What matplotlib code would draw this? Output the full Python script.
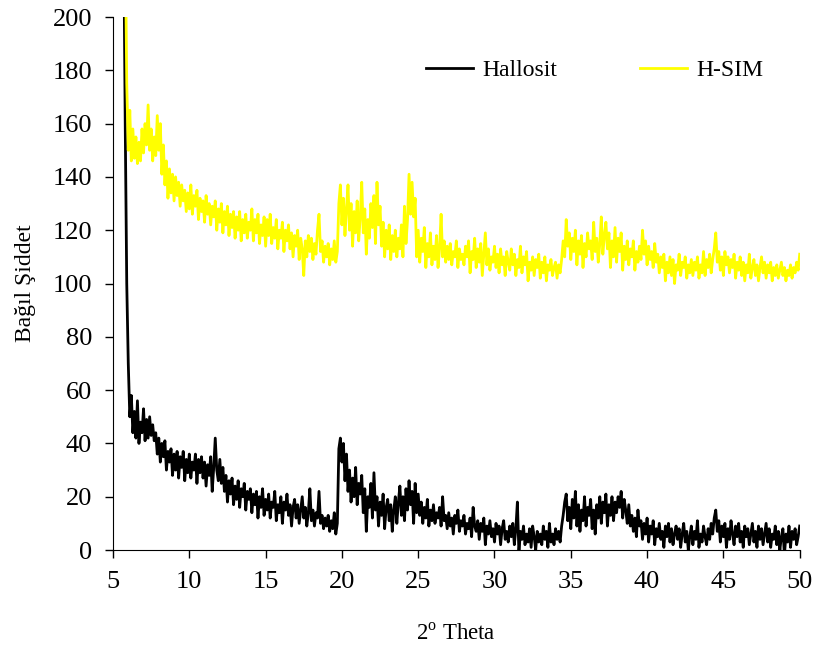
import numpy as np
import matplotlib
matplotlib.use("Agg")
import matplotlib.pyplot as plt

plt.rcParams['font.family'] = ['Liberation Serif', 'DejaVu Serif']
plt.rcParams['mathtext.fontset'] = 'custom'
plt.rcParams['mathtext.rm'] = 'Liberation Serif'

# 2-theta grid (0.1 deg step) and intensities
theta_hallosit = np.round(np.arange(5.7, 50.05, 0.1), 1)
hallosit = [
    230, 160, 100,
    70, 50, 58, 44, 52, 42, 56, 40, 48, 44,
    53, 41, 49, 42, 50, 43, 47, 41, 44, 36,
    42, 33, 40, 35, 41, 30, 37, 33, 38, 28,
    36, 30, 37, 27, 35, 31, 37, 26, 34, 29,
    36, 27, 33, 30, 36, 25, 34, 29, 35, 27,
    33, 24, 32, 28, 35, 22, 31, 42, 30, 26,
    34, 25, 31, 22, 28, 18, 26, 21, 27, 17,
    24, 19, 26, 16, 23, 20, 25, 15, 22, 19,
    23, 14, 21, 17, 22, 12, 20, 16, 23, 13,
    19, 15, 21, 12, 18, 16, 22, 11, 17, 14,
    20, 10, 18, 15, 21, 13, 17, 9, 16, 19,
    12, 17, 10, 15, 20, 12, 16, 9, 14, 23,
    11, 15, 9, 14, 12, 22, 10, 13, 8, 12,
    9, 13, 7, 11, 8, 14, 6, 10, 38, 42,
    33, 40, 26, 36, 22, 30, 18, 27, 20, 31,
    17, 25, 21, 28, 14, 23, 7, 20, 16, 25,
    12, 29, 15, 20, 9, 18, 13, 21, 8, 16,
    19, 11, 17, 7, 15, 20, 10, 18, 24, 13,
    20, 11, 23, 15, 26, 17, 22, 10, 25, 14,
    21, 13, 18, 10, 16, 12, 19, 9, 15, 11,
    17, 10, 14, 12, 16, 9, 20, 11, 13, 8,
    14, 9, 12, 6, 13, 10, 15, 7, 11, 9,
    13, 6, 10, 8, 12, 5, 16, 9, 7, 11,
    4, 10, 7, 12, 2, 9, 6, 11, 5, 8,
    3, 10, 6, 9, 2, 8, 11, 4, 7, 3,
    9, 5, 10, 2, 8, 18, -1, 7, 4, 9,
    2, 6, 3, 8, 1, 9, 5, 0, 7, 3,
    6, 2, 9, 4, 7, 1, 10, 3, 6, 2,
    8, 4, 7, 3, 9, 13, 18, 21, 11, 16,
    8, 19, 12, 22, 9, 17, 7, 15, 11, 20,
    9, 16, 13, 19, 8, 15, 6, 17, 12, 20,
    10, 18, 14, 21, 9, 17, 13, 20, 11, 18,
    14, 20, 16, 22, 12, 19, 15, 10, 17, 9,
    13, 7, 12, 5, 15, 9, 11, 4, 10, 6,
    12, 3, 9, 6, 11, 2, 8, 5, 10, 4,
    7, 1, 9, 5, 10, 3, 8, 2, 6, 9,
    4, 8, 1, 6, 10, 3, 7, 0, 5, 9,
    2, 7, 4, 11, 1, 6, 3, 9, 5, 2,
    8, 4, 10, 6, 12, 15, 7, 11, 3, 9,
    5, 10, 1, 8, 4, 11, 6, 2, 9, 5,
    10, 3, 7, 1, 9, 5, 8, 2, 6, 10,
    3, 7, 1, 9, 4, 8, 2, 6, 10, 3,
    8, 1, 6, 4, 9, 2, 7, 0, 5, 8,
    -2, 6, 3, 9, 1, 7, 4, 8, 2, 5,
    9,
]

theta_hsim = np.round(np.arange(5.8, 50.05, 0.1), 1)
hsim = [
    230, 175,
    150, 165, 146, 158, 147, 155, 145, 153, 146, 158,
    149, 160, 152, 167, 150, 158, 146, 155, 148, 163,
    150, 160, 141, 152, 137, 146, 132, 143, 134, 141,
    131, 140, 133, 138, 129, 137, 131, 135, 127, 134,
    128, 137, 126, 133, 129, 135, 124, 132, 127, 131,
    123, 133, 126, 130, 122, 129, 125, 131, 120, 128,
    123, 130, 119, 127, 122, 129, 118, 126, 121, 127,
    117, 125, 120, 127, 116, 124, 119, 126, 117, 123,
    120, 128, 116, 124, 119, 126, 115, 122, 118, 125,
    114, 124, 118, 126, 115, 121, 117, 124, 113, 120,
    117, 123, 112, 120, 116, 122, 113, 119, 110, 118,
    114, 120, 109, 117, 113, 103, 116, 110, 118, 112,
    117, 109, 115, 111, 120, 126, 112, 116, 108, 114,
    110, 115, 107, 113, 109, 116, 108, 112, 130, 137,
    122, 132, 118, 128, 137, 120, 130, 114, 127, 119,
    131, 116, 125, 138, 119, 128, 111, 124, 117, 130,
    121, 133, 115, 138, 122, 129, 114, 123, 110, 120,
    113, 122, 109, 118, 112, 120, 110, 117, 113, 122,
    110, 129, 115, 124, 141, 126, 138, 125, 132, 110,
    120, 108, 117, 112, 121, 106, 115, 110, 119, 107,
    114, 109, 118, 106, 113, 126, 110, 116, 108, 114,
    109, 115, 107, 112, 110, 116, 106, 113, 109, 111,
    107, 114, 110, 116, 104, 112, 109, 117, 106, 113,
    108, 115, 103, 111, 119, 107, 113, 105, 110, 108,
    114, 106, 111, 104, 113, 107, 110, 103, 112, 108,
    105, 113, 107, 111, 103, 109, 106, 114, 104, 110,
    107, 112, 101, 108, 105, 110, 103, 109, 106, 111,
    102, 108, 104, 110, 101, 107, 105, 109, 103, 106,
    108, 102, 107, 104, 109, 116, 110, 124, 114, 119,
    109, 117, 112, 120, 107, 116, 111, 118, 106, 115,
    110, 119, 113, 116, 109, 123, 112, 117, 108, 115,
    125, 111, 118, 123, 113, 119, 106, 116, 110, 121,
    108, 117, 112, 119, 105, 114, 109, 116, 107, 113,
    110, 116, 105, 112, 108, 114, 109, 120, 111, 116,
    107, 114, 109, 112, 106, 115, 108, 111, 104, 110,
    106, 111, 101, 108, 104, 110, 103, 109, 100, 107,
    105, 111, 103, 108, 106, 110, 102, 107, 104, 109,
    103, 108, 105, 110, 102, 107, 104, 112, 103, 109,
    106, 111, 104, 109, 113, 119, 108, 112, 105, 110,
    103, 112, 107, 110, 104, 109, 106, 111, 102, 108,
    105, 110, 103, 108, 101, 107, 104, 111, 102, 106,
    109, 103, 107, 101, 106, 110, 104, 108, 102, 107,
    104, 108, 101, 106, 103, 107, 102, 105, 108, 103,
    106, 101, 105, 103, 107, 102, 106, 104, 108, 105,
    111,
]

x_ticks = list(range(5, 51, 5))
y_ticks = list(range(0, 201, 20))

fig = plt.figure(figsize=(8.16, 6.49), dpi=100)
ax = fig.add_axes([0.1385, 0.1525, 0.8415, 0.8213])

ax.plot(theta_hallosit, hallosit, color='black', lw=2.0, label='Hallosit')
ax.plot(theta_hsim, hsim, color='#FFFF00', lw=2.0, label='H-SIM')

ax.set_xlim(5, 50)
ax.set_ylim(0, 200)
ax.set_xticks(x_ticks)
ax.set_yticks(y_ticks)
ax.tick_params(direction='out', length=6, width=1, labelsize=19, pad=9)

for side in ['top', 'right']:
    ax.spines[side].set_visible(False)

ax.set_xlabel('2$^{\\mathrm{o}}$ Theta', fontsize=16.5, labelpad=22)
ax.set_ylabel('Bağıl Şiddet', fontsize=17, labelpad=12)

ax.legend(loc='center', bbox_to_anchor=(0.729, 0.892), bbox_transform=fig.transFigure,
          ncol=2, frameon=False, fontsize=17, handlelength=2.0,
          columnspacing=3.5, handletextpad=0.4)

fig.savefig('out.png', dpi=100)
